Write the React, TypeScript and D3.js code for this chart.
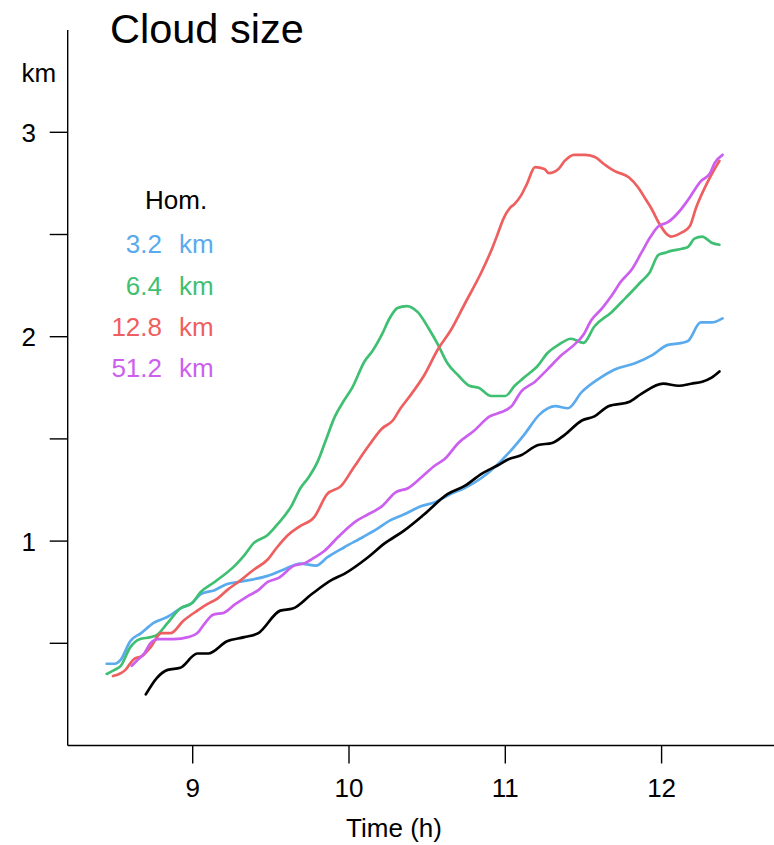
import React from "react";
import * as d3 from "d3";

const xTicks = [9, 10, 11, 12];
const yTicks = [0.5, 1, 1.5, 2, 2.5, 3];
const yLabels = [1, 2, 3];

const legendNames = ["3.2", "6.4", "12.8", "51.2"];
const legendColors = ["#5AAAEE", "#3FBF72", "#EE5F5F", "#CC5FEE"];

const blackT = [8.70,8.77,8.84,8.92,9.03,9.10,9.22,9.33,9.42,9.56,9.64,9.76,9.89,9.97,10.12,10.23,10.35,10.48,10.63,10.74,10.85,10.95,11.02,11.10,11.21,11.30,11.38,11.49,11.57,11.66,11.79,11.87,12.01,12.11,12.19,12.26,12.32,12.37];
const blackV = [0.25,0.33,0.37,0.38,0.45,0.45,0.51,0.53,0.55,0.66,0.67,0.74,0.81,0.84,0.92,0.99,1.05,1.13,1.23,1.27,1.33,1.37,1.40,1.42,1.47,1.48,1.52,1.59,1.61,1.66,1.68,1.72,1.77,1.76,1.77,1.78,1.80,1.83];

const blueT = [8.45,8.50,8.54,8.60,8.67,8.75,8.84,8.92,9.00,9.05,9.14,9.22,9.29,9.37,9.48,9.58,9.69,9.79,9.86,9.97,10.09,10.18,10.26,10.35,10.46,10.55,10.65,10.74,10.85,10.93,11.02,11.12,11.22,11.32,11.40,11.49,11.59,11.70,11.83,11.94,12.04,12.13,12.17,12.25,12.32,12.39];
const blueV = [0.40,0.40,0.42,0.51,0.55,0.60,0.63,0.67,0.70,0.74,0.76,0.79,0.80,0.81,0.83,0.86,0.89,0.88,0.92,0.97,1.02,1.06,1.10,1.13,1.17,1.19,1.23,1.26,1.31,1.36,1.43,1.52,1.62,1.66,1.65,1.73,1.79,1.84,1.87,1.91,1.96,1.97,1.98,2.07,2.07,2.09];

const greenT = [8.45,8.50,8.54,8.60,8.66,8.73,8.77,8.84,8.92,9.00,9.05,9.14,9.27,9.33,9.39,9.48,9.54,9.63,9.69,9.74,9.80,9.85,9.91,9.97,10.02,10.10,10.15,10.21,10.26,10.31,10.37,10.44,10.51,10.57,10.63,10.70,10.77,10.83,10.91,11.00,11.06,11.12,11.21,11.27,11.34,11.42,11.50,11.57,11.68,11.77,11.87,11.92,11.98,12.02,12.06,12.13,12.17,12.21,12.26,12.32,12.37];
const greenV = [0.35,0.37,0.39,0.48,0.52,0.53,0.54,0.60,0.67,0.70,0.75,0.80,0.88,0.93,0.99,1.03,1.08,1.17,1.26,1.31,1.39,1.49,1.61,1.69,1.75,1.88,1.93,2.01,2.09,2.14,2.15,2.12,2.04,1.96,1.87,1.81,1.76,1.75,1.71,1.71,1.76,1.80,1.86,1.92,1.96,1.99,1.97,2.05,2.12,2.19,2.27,2.31,2.40,2.41,2.42,2.43,2.44,2.48,2.49,2.46,2.45];

const redT = [8.49,8.53,8.57,8.62,8.68,8.73,8.80,8.86,8.94,9.03,9.09,9.16,9.22,9.31,9.39,9.48,9.54,9.61,9.68,9.78,9.86,9.95,10.03,10.12,10.21,10.28,10.33,10.38,10.48,10.57,10.65,10.74,10.85,10.92,10.95,10.99,11.03,11.06,11.10,11.14,11.19,11.25,11.28,11.34,11.38,11.44,11.51,11.57,11.64,11.70,11.79,11.85,11.90,11.94,11.98,12.06,12.13,12.18,12.22,12.29,12.37];
const redV = [0.34,0.35,0.37,0.42,0.44,0.48,0.55,0.55,0.61,0.66,0.69,0.72,0.76,0.81,0.86,0.91,0.97,1.03,1.07,1.12,1.23,1.27,1.36,1.46,1.55,1.59,1.65,1.70,1.81,1.94,2.03,2.16,2.32,2.44,2.50,2.58,2.63,2.65,2.69,2.75,2.83,2.82,2.80,2.82,2.86,2.89,2.89,2.88,2.84,2.81,2.78,2.73,2.67,2.62,2.56,2.49,2.51,2.54,2.63,2.75,2.86];

const magentaT = [8.61,8.65,8.69,8.73,8.78,8.88,8.97,9.03,9.07,9.13,9.20,9.27,9.35,9.42,9.48,9.55,9.65,9.71,9.78,9.84,9.93,10.05,10.12,10.21,10.30,10.38,10.46,10.55,10.61,10.70,10.80,10.90,10.97,11.04,11.10,11.19,11.27,11.36,11.44,11.50,11.55,11.62,11.68,11.74,11.81,11.87,11.93,11.98,12.04,12.11,12.17,12.25,12.31,12.34,12.39];
const magentaV = [0.39,0.42,0.45,0.50,0.52,0.52,0.53,0.55,0.59,0.64,0.65,0.69,0.73,0.76,0.80,0.82,0.88,0.89,0.92,0.95,1.02,1.10,1.13,1.17,1.24,1.26,1.31,1.37,1.40,1.48,1.54,1.61,1.63,1.66,1.73,1.78,1.84,1.91,1.96,2.01,2.08,2.14,2.20,2.27,2.33,2.41,2.49,2.54,2.56,2.61,2.67,2.76,2.80,2.85,2.89];

const W = 774;
const H = 845;
const FONT = "'Liberation Sans', Arial, Helvetica, sans-serif";

export default function App() {
  const x = d3.scaleLinear().domain([9, 12]).range([192.7, 661.6]);
  const y = d3.scaleLinear().domain([0, 3]).range([745.5, 132.3]);
  const axisX0 = 67.7;
  const yTop = y(3.5);

  const line = d3
    .line<[number, number]>()
    .x((d) => x(d[0]))
    .y((d) => y(d[1]))
    .curve(d3.curveMonotoneX);

  const series = [
    { t: blueT, v: blueV, color: legendColors[0] },
    { t: greenT, v: greenV, color: legendColors[1] },
    { t: redT, v: redV, color: legendColors[2] },
    { t: magentaT, v: magentaV, color: legendColors[3] },
    { t: blackT, v: blackV, color: "#000000" },
  ];

  return (
    <svg
      width={W}
      height={H}
      style={{ position: "absolute", left: 0, top: 0, display: "block", background: "#fff" }}
      fontFamily={FONT}
    >
      <rect x={0} y={0} width={W} height={H} fill="#ffffff" />
      {/* title */}
      <text x={110} y={42.7} fontSize={41.5} fill="#000">Cloud size</text>
      {/* y axis */}
      <line x1={axisX0} x2={axisX0} y1={yTop} y2={y(0)} stroke="#000" strokeWidth={1.4} />
      {yTicks.map((t) => (
        <line key={"yt" + t} x1={axisX0 - 18} x2={axisX0} y1={y(t)} y2={y(t)} stroke="#000" strokeWidth={1.4} />
      ))}
      {yLabels.map((t) => (
        <text key={"yl" + t} x={36} y={y(t) + 9.5} fontSize={26} textAnchor="end" fill="#000">
          {t}
        </text>
      ))}
      <text x={21.5} y={81.7} fontSize={26} fill="#000">km</text>
      {/* x axis */}
      <line x1={axisX0} x2={W} y1={y(0)} y2={y(0)} stroke="#000" strokeWidth={1.4} />
      {xTicks.map((t) => (
        <line key={"xt" + t} x1={x(t)} x2={x(t)} y1={y(0)} y2={y(0) + 18} stroke="#000" strokeWidth={1.4} />
      ))}
      {xTicks.map((t) => (
        <text key={"xl" + t} x={x(t)} y={796.7} fontSize={26} textAnchor="middle" fill="#000">
          {t}
        </text>
      ))}
      <text x={394} y={837.3} fontSize={26} textAnchor="middle" fill="#000">Time (h)</text>
      {/* lines */}
      {series.map((s, i) => (
        <path
          key={"s" + i}
          d={line(s.t.map((t, j) => [t, s.v[j]] as [number, number])) || ""}
          fill="none"
          stroke={s.color}
          strokeWidth={2.7}
          strokeLinejoin="round"
          strokeLinecap="round"
        />
      ))}
      {/* legend */}
      <text x={145} y={209.3} fontSize={26} fill="#000">Hom.</text>
      {legendNames.map((n, i) => (
        <g key={"lg" + n}>
          <text x={162} y={253.3 + i * 41.2} fontSize={26} textAnchor="end" fill={legendColors[i]}>
            {n}
          </text>
          <text x={179} y={253.3 + i * 41.2} fontSize={26} fill={legendColors[i]}>
            km
          </text>
        </g>
      ))}
    </svg>
  );
}
